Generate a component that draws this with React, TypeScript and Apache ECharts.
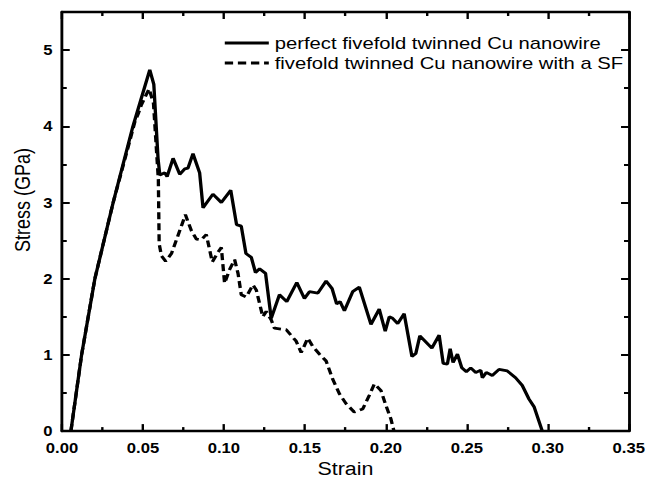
import React, { useEffect, useRef } from "react";
import * as echarts from "echarts";

// Stress–strain response of fivefold twinned Cu nanowires
const perfectStrain = [
  0.0055, 0.0121, 0.0203, 0.0316, 0.0438, 0.0542, 0.0567, 0.0593, 0.0604, 0.0635,
  0.0649, 0.0686, 0.0727, 0.0758, 0.0778, 0.0809, 0.085, 0.0871, 0.0932, 0.0984,
  0.1042, 0.1078, 0.1107, 0.1136, 0.1169, 0.1195, 0.122, 0.1257, 0.1292, 0.1343,
  0.1388, 0.145, 0.1497, 0.1528, 0.158, 0.1631, 0.1668, 0.1696, 0.1717, 0.1744,
  0.1795, 0.1836, 0.1908, 0.1959, 0.1996, 0.2021, 0.2042, 0.2073, 0.2113, 0.2161,
  0.2185, 0.221, 0.2284, 0.2329, 0.2354, 0.238, 0.2397, 0.2415, 0.2442, 0.2469,
  0.2497, 0.2524, 0.2555, 0.2586, 0.2596, 0.262, 0.2657, 0.2699, 0.275, 0.2801,
  0.2842, 0.2884, 0.2915, 0.2966,
];
const perfectStress = [
  0.0, 1.0, 2.0, 3.0, 4.0, 4.74, 4.55, 3.58, 3.36, 3.39,
  3.34, 3.58, 3.37, 3.44, 3.45, 3.64, 3.39, 2.93, 3.11, 3.0,
  3.16, 2.71, 2.69, 2.33, 2.28, 2.08, 2.13, 2.07, 1.48, 1.79,
  1.7, 1.95, 1.74, 1.83, 1.81, 1.97, 1.87, 1.67, 1.7, 1.58,
  1.83, 1.89, 1.4, 1.6, 1.31, 1.5, 1.48, 1.41, 1.54, 0.98,
  1.02, 1.25, 1.09, 1.26, 0.89, 0.88, 1.08, 0.9, 1.01, 0.83,
  0.78, 0.83, 0.77, 0.8, 0.7, 0.77, 0.73, 0.81, 0.79, 0.7,
  0.6, 0.42, 0.32, 0.0,
];

const sfStrain = [
  0.0055, 0.0121, 0.0203, 0.0316, 0.0405, 0.045, 0.047, 0.049, 0.0526, 0.0538,
  0.0565, 0.0595, 0.06, 0.0614, 0.064, 0.0676, 0.0727, 0.0762, 0.0799, 0.083,
  0.086, 0.0891, 0.0928, 0.0964, 0.0984, 0.1004, 0.1035, 0.1066, 0.1087, 0.1107,
  0.1138, 0.1179, 0.12, 0.124, 0.1261, 0.1292, 0.1312, 0.1385, 0.1446, 0.1477,
  0.1518, 0.1549, 0.159, 0.1631, 0.1672, 0.1713, 0.1754, 0.1805, 0.1857, 0.1898,
  0.1929, 0.197, 0.2, 0.2031, 0.205,
];
const sfStress = [
  0.0, 1.0, 2.0, 3.0, 3.7, 4.06, 4.16, 4.28, 4.44, 4.49,
  4.3, 3.3, 2.46, 2.3, 2.23, 2.33, 2.63, 2.84, 2.63, 2.52,
  2.51, 2.58, 2.22, 2.35, 2.41, 1.94, 2.12, 2.25, 2.07, 1.79,
  1.76, 1.92, 1.85, 1.5, 1.57, 1.46, 1.35, 1.33, 1.18, 1.03,
  1.22, 1.11, 1.01, 0.92, 0.68, 0.49, 0.36, 0.25, 0.29, 0.47,
  0.62, 0.53, 0.34, 0.16, 0.0,
];

const seriesNames = [
  "perfect fivefold twinned Cu nanowire",
  "fivefold twinned Cu nanowire with a SF",
];

const xTicks = { min: 0, max: 0.35, interval: 0.05 };
const yTicks = { min: 0, max: 5.5, interval: 1 };

const FONT = "'Liberation Sans', Arial, Helvetica, sans-serif";

// The figure is drawn on a narrower canvas and widened horizontally.
const STRETCH = 1.19;
const PAGE_W = 649;
const PAGE_H = 483;
const INNER_W = PAGE_W / STRETCH;

const pairs = (xs: number[], ys: number[]) => xs.map((x, i) => [x, ys[i]]);

export default function App() {
  const ref = useRef<HTMLDivElement>(null);

  useEffect(() => {
    if (!ref.current) return;
    const chart = echarts.init(ref.current, null, { renderer: "svg" });

    const axisLine = { show: true, onZero: false, lineStyle: { color: "#000", width: 2.4 } };
    const minor = { show: true, splitNumber: 2, length: 4, lineStyle: { color: "#000", width: 2 } };
    const tickX = { show: true, inside: true, length: 7, lineStyle: { color: "#000", width: 2 } };
    const tickY = { show: true, inside: true, length: 6.5, lineStyle: { color: "#000", width: 2 } };

    const gridLeft = 62 / STRETCH;
    const gridRight = 19 / STRETCH;

    chart.setOption({
      animation: false,
      backgroundColor: "#fff",
      grid: { left: gridLeft, right: gridRight, top: 12, bottom: 47, containLabel: false },
      legend: {
        orient: "vertical",
        left: 223 / STRETCH,
        top: 33,
        padding: 0,
        itemWidth: 37,
        itemHeight: 2,
        itemGap: 0,
        itemStyle: { opacity: 0 },
        lineStyle: { width: 3, color: "#000", type: "inherit" },
        textStyle: { fontFamily: FONT, fontSize: 17, lineHeight: 20, color: "#000" },
        data: seriesNames,
      },
      graphic: [
        {
          type: "text",
          x: 22 / STRETCH,
          y: 200,
          rotation: Math.PI / 2,
          style: {
            text: "Stress (GPa)",
            font: `18px ${FONT}`,
            fill: "#000",
            textAlign: "center",
            textVerticalAlign: "middle",
          },
        },
      ],
      xAxis: [
        {
          type: "value",
          ...xTicks,
          position: "bottom",
          name: "Strain",
          nameLocation: "middle",
          nameGap: 27,
          nameTextStyle: { fontFamily: FONT, fontSize: 18, color: "#000" },
          axisLine,
          axisTick: tickX,
          minorTick: minor,
          splitLine: { show: false },
          axisLabel: {
            fontFamily: FONT,
            fontSize: 14,
            fontWeight: "bold",
            color: "#000",
            margin: 10,
            formatter: (v: number) => v.toFixed(2),
          },
        },
        {
          type: "value",
          ...xTicks,
          position: "top",
          axisLine,
          axisTick: tickX,
          minorTick: minor,
          splitLine: { show: false },
          axisLabel: { show: false },
        },
      ],
      yAxis: [
        {
          type: "value",
          ...yTicks,
          position: "left",
          axisLine,
          axisTick: tickY,
          minorTick: minor,
          splitLine: { show: false },
          axisLabel: {
            fontFamily: FONT,
            fontSize: 14,
            fontWeight: "bold",
            color: "#000",
            margin: 8,
            showMaxLabel: false,
          },
        },
        {
          type: "value",
          ...yTicks,
          position: "right",
          axisLine,
          axisTick: tickY,
          minorTick: minor,
          splitLine: { show: false },
          axisLabel: { show: false },
        },
      ],
      series: [
        {
          name: seriesNames[0],
          type: "line",
          data: pairs(perfectStrain, perfectStress),
          symbol: "none",
          lineStyle: { color: "#000", width: 2.8, type: "solid" },
          itemStyle: { color: "#000" },
          clip: true,
        },
        {
          name: seriesNames[1],
          type: "line",
          data: pairs(sfStrain, sfStress),
          symbol: "none",
          lineStyle: { color: "#000", width: 2.8, type: [7, 4] },
          itemStyle: { color: "#000" },
          clip: true,
        },
      ],
    });

    return () => chart.dispose();
  }, []);

  return (
    <div
      style={{
        position: "fixed",
        left: 0,
        top: 0,
        width: PAGE_W,
        height: PAGE_H,
        background: "#fff",
        overflow: "hidden",
      }}
    >
      <div
        ref={ref}
        style={{
          width: INNER_W,
          height: PAGE_H,
          transform: `scaleX(${STRETCH})`,
          transformOrigin: "0 0",
        }}
      />
    </div>
  );
}
